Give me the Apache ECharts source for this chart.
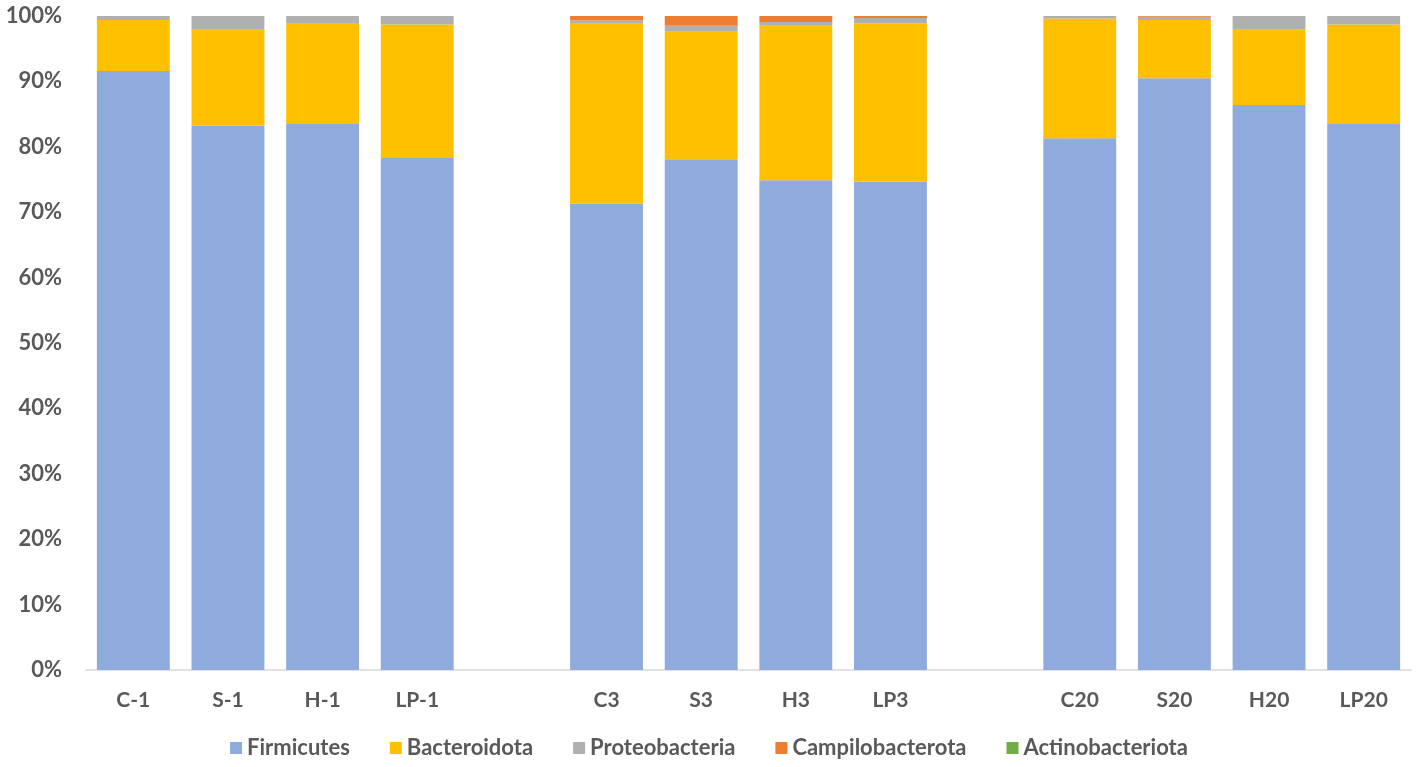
<!DOCTYPE html>
<html>
<head>
<meta charset="utf-8">
<script src="https://cdn.jsdelivr.net/npm/echarts@6/dist/echarts.min.js"></script>
<style>
  html, body { margin: 0; padding: 0; background: #fff; }
  #container { width: 1418px; height: 767px; }
</style>
</head>
<body>
<div id="container"></div>
<script>
// samples, with two blank slots that separate the groups
var samples = ['C-1', 'S-1', 'H-1', 'LP-1', '', 'C3', 'S3', 'H3', 'LP3', '', 'C20', 'S20', 'H20', 'LP20'];

// relative abundance in % ('-' = gap)
var firmicutes       = [91.6, 83.2, 83.6, 78.3, '-', 71.3, 78.1, 74.9, 74.7, '-', 81.3, 90.5, 86.4, 83.5];
var bacteroidota     = [7.8, 14.7, 15.2, 20.4, '-', 27.5, 19.5, 23.6, 24.2, '-', 18.3, 8.9, 11.5, 15.2];
var proteobacteria   = [0.6, 2.1, 1.2, 1.3, '-', 0.5, 0.9, 0.6, 0.8, '-', 0.4, 0.5, 2.1, 1.3];
var campilobacterota = [0, 0, 0, 0, '-', 0.7, 1.5, 0.9, 0.3, '-', 0, 0.1, 0, 0];
var actinobacteriota = [0, 0, 0, 0, '-', 0, 0, 0, 0, '-', 0, 0, 0, 0];

var seriesNames = ['Firmicutes', 'Bacteroidota', 'Proteobacteria', 'Campilobacterota', 'Actinobacteriota'];
var seriesData = [firmicutes, bacteroidota, proteobacteria, campilobacterota, actinobacteriota];
var colors = ['#8faadc', '#ffc000', '#b0b0b0', '#ed7d31', '#70ad47'];

var font = 'Lato, "Open Sans", sans-serif';
var textColor = '#595959';

var dom = document.getElementById('container');
var myChart = echarts.init(dom);

myChart.setOption({
    animation: false,
    color: colors,
    grid: { left: 86, right: 7, top: 16, bottom: 97, containLabel: false },
    legend: {
        bottom: 3,
        left: 'center',
        itemWidth: 12,
        itemHeight: 12,
        itemGap: 40,
        icon: 'rect',
        textStyle: { color: textColor, fontFamily: font, fontSize: 22, fontWeight: 'bold' },
        data: seriesNames
    },
    xAxis: {
        type: 'category',
        data: samples,
        axisLine: { lineStyle: { color: '#d9d9d9', width: 1.5 } },
        axisTick: { show: false },
        axisLabel: { color: textColor, fontFamily: font, fontSize: 21, fontWeight: 'bold', margin: 20, interval: 0 }
    },
    yAxis: {
        type: 'value',
        min: 0,
        max: 100,
        interval: 10,
        axisLine: { show: false },
        axisTick: { show: false },
        splitLine: { show: false },
        axisLabel: { color: textColor, fontFamily: font, fontSize: 22, fontWeight: 'bold', margin: 24, formatter: '{value}%' }
    },
    series: seriesNames.map(function (name, i) {
        return {
            name: name,
            type: 'bar',
            stack: 'total',
            barCategoryGap: '23%',
            data: seriesData[i]
        };
    })
});
</script>
</body>
</html>
